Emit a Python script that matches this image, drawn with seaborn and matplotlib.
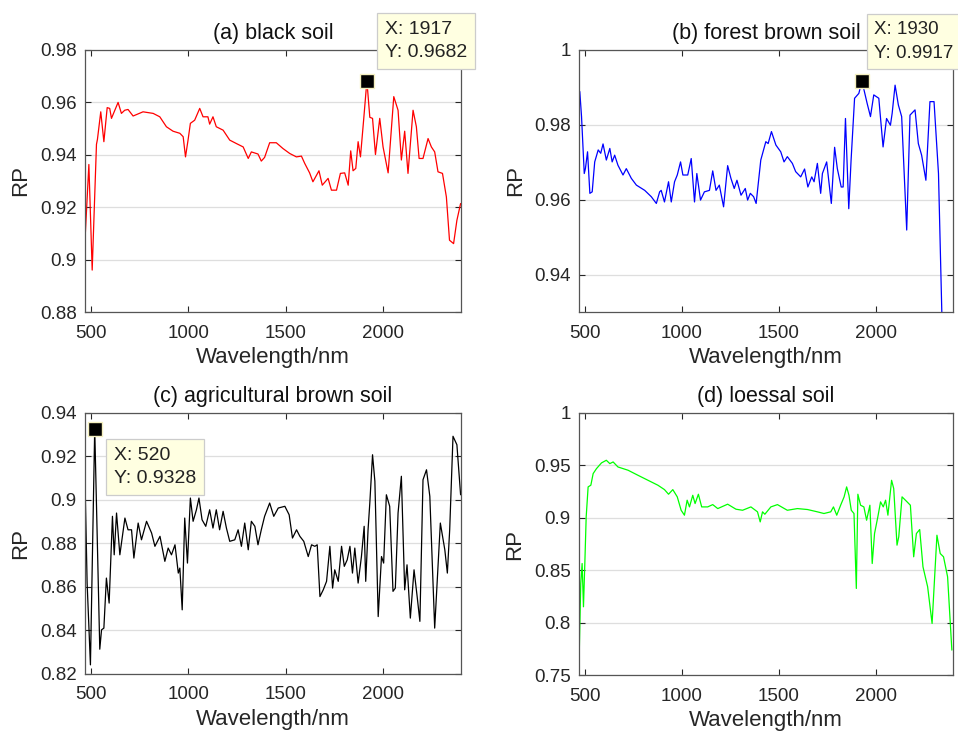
import numpy as np
import pandas as pd
import matplotlib
matplotlib.use('Agg')
import matplotlib.pyplot as plt
import seaborn as sns
from matplotlib.ticker import FuncFormatter

# (a) black soil
wl_a = [471, 490, 507, 529, 534, 551, 567, 584, 597, 606, 640, 657, 674, 691, 717, 768, 820, 854,
        888, 922, 957, 974, 986, 999, 1011, 1033, 1059, 1076, 1101, 1110, 1127, 1144, 1179, 1213,
        1247, 1282, 1308, 1324, 1358, 1375, 1392, 1418, 1452, 1486, 1521, 1555, 1581, 1598, 1623,
        1640, 1671, 1688, 1718, 1735, 1761, 1781, 1803, 1821, 1834, 1846, 1860, 1872, 1884, 1901,
        1917, 1932, 1946, 1961, 1983, 2000, 2026, 2055, 2077, 2094, 2111, 2128, 2154, 2171, 2185,
        2205, 2231, 2248, 2265, 2282, 2305, 2325, 2341, 2362, 2379, 2398]
rp_a = [0.9087, 0.9363, 0.8960, 0.9440, 0.9459, 0.9564, 0.9450, 0.9580, 0.9577, 0.9539, 0.9600,
        0.9558, 0.9570, 0.9573, 0.9548, 0.9564, 0.9558, 0.9545, 0.9507, 0.9490, 0.9482, 0.9469,
        0.9392, 0.9456, 0.9520, 0.9532, 0.9577, 0.9545, 0.9545, 0.9517, 0.9545, 0.9507, 0.9494,
        0.9456, 0.9443, 0.9430, 0.9386, 0.9411, 0.9403, 0.9376, 0.9390, 0.9446, 0.9446, 0.9424,
        0.9405, 0.9392, 0.9395, 0.9367, 0.9331, 0.9297, 0.9339, 0.9284, 0.9310, 0.9265, 0.9265,
        0.9329, 0.9331, 0.9284, 0.9415, 0.9339, 0.9348, 0.9450, 0.9392, 0.9539, 0.9682, 0.9543,
        0.9539, 0.9401, 0.9539, 0.9430, 0.9331, 0.9622, 0.9570, 0.9380, 0.9490, 0.9329, 0.9570,
        0.9507, 0.9386, 0.9386, 0.9462, 0.9430, 0.9411, 0.9335, 0.9329, 0.9239, 0.9074, 0.9061,
        0.9150, 0.9214]

# (b) forest brown soil
wl_b = [474, 483, 497, 503, 514, 526, 538, 551, 569, 582, 594, 611, 629, 641, 654, 671, 697, 714,
        740, 766, 809, 843, 869, 886, 894, 911, 932, 946, 963, 977, 994, 1006, 1031, 1049, 1066,
        1078, 1097, 1117, 1143, 1160, 1177, 1194, 1216, 1237, 1254, 1271, 1285, 1306, 1328, 1340,
        1354, 1371, 1384, 1408, 1434, 1446, 1463, 1486, 1511, 1528, 1545, 1571, 1588, 1614, 1634,
        1651, 1671, 1683, 1700, 1717, 1726, 1748, 1772, 1789, 1803, 1823, 1833, 1845, 1862, 1874,
        1892, 1914, 1930, 1957, 1974, 1991, 2017, 2039, 2057, 2077, 2086, 2101, 2118, 2135, 2161,
        2178, 2204, 2221, 2238, 2260, 2281, 2302, 2325, 2342, 2360]
rp_b = [0.9889, 0.9822, 0.9670, 0.9683, 0.9728, 0.9617, 0.9621, 0.9701, 0.9733, 0.9724, 0.9749,
        0.9706, 0.9737, 0.9701, 0.9719, 0.9692, 0.9666, 0.9683, 0.9657, 0.9639, 0.9625, 0.9608,
        0.9590, 0.9621, 0.9625, 0.9594, 0.9648, 0.9594, 0.9648, 0.9666, 0.9701, 0.9666, 0.9666,
        0.9710, 0.9594, 0.9670, 0.9599, 0.9621, 0.9625, 0.9677, 0.9625, 0.9639, 0.9581, 0.9691,
        0.9657, 0.9630, 0.9652, 0.9612, 0.9630, 0.9599, 0.9617, 0.9608, 0.9590, 0.9706, 0.9755,
        0.9750, 0.9782, 0.9746, 0.9728, 0.9701, 0.9715, 0.9697, 0.9675, 0.9661, 0.9682, 0.9634,
        0.9661, 0.9648, 0.9697, 0.9617, 0.9670, 0.9701, 0.9590, 0.9740, 0.9683, 0.9634, 0.9634,
        0.9817, 0.9576, 0.9706, 0.9871, 0.9884, 0.9917, 0.9857, 0.9822, 0.9880, 0.9871, 0.9741,
        0.9817, 0.9799, 0.9831, 0.9906, 0.9853, 0.9822, 0.9519, 0.9826, 0.9840, 0.9750, 0.9719,
        0.9652, 0.9862, 0.9862, 0.9670, 0.9304, 0.9000]

# (c) agricultural brown soil
wl_c = [471, 481, 498, 520, 532, 546, 555, 567, 580, 594, 611, 620, 632, 649, 675, 691, 709, 721,
        743, 760, 786, 812, 829, 855, 880, 897, 914, 932, 949, 957, 969, 982, 996, 1011, 1025,
        1042, 1055, 1071, 1090, 1110, 1127, 1144, 1161, 1179, 1196, 1213, 1239, 1256, 1273, 1290,
        1308, 1324, 1342, 1358, 1375, 1392, 1418, 1439, 1462, 1496, 1518, 1535, 1556, 1573, 1593,
        1616, 1633, 1650, 1662, 1676, 1693, 1710, 1727, 1741, 1752, 1770, 1787, 1801, 1816, 1830,
        1843, 1855, 1872, 1889, 1903, 1911, 1923, 1932, 1946, 1958, 1975, 1992, 2003, 2017, 2034,
        2051, 2063, 2077, 2094, 2111, 2123, 2140, 2159, 2175, 2189, 2205, 2223, 2240, 2265, 2294,
        2317, 2330, 2342, 2359, 2379, 2398]
rp_c = [0.9055, 0.8618, 0.8242, 0.9328, 0.8863, 0.8314, 0.8403, 0.8411, 0.8641, 0.8526, 0.8925,
        0.8748, 0.8940, 0.8748, 0.8917, 0.8863, 0.8863, 0.8733, 0.8894, 0.8817, 0.8902, 0.8848,
        0.8787, 0.8833, 0.8718, 0.8779, 0.8748, 0.8794, 0.8664, 0.8687, 0.8495, 0.8917, 0.8710,
        0.9009, 0.8902, 0.8955, 0.9009, 0.8909, 0.8879, 0.8955, 0.8871, 0.8955, 0.8863, 0.8948,
        0.8871, 0.8810, 0.8817, 0.8863, 0.8787, 0.8894, 0.8771, 0.8902, 0.8879, 0.8794, 0.8863,
        0.8925, 0.8986, 0.8925, 0.8963, 0.8971, 0.8932, 0.8825, 0.8863, 0.8833, 0.8810, 0.8740,
        0.8794, 0.8787, 0.8794, 0.8556, 0.8587, 0.8626, 0.8787, 0.8595, 0.8679, 0.8626, 0.8787,
        0.8695, 0.8725, 0.8787, 0.8664, 0.8779, 0.8618, 0.8740, 0.8879, 0.8626, 0.8863, 0.8986,
        0.9208, 0.9086, 0.8464, 0.8740, 0.8710, 0.9024, 0.8971, 0.8580, 0.8595, 0.8940, 0.9109,
        0.8587, 0.8702, 0.8457, 0.8679, 0.8556, 0.8442, 0.9093, 0.9139, 0.9017, 0.8411, 0.8894,
        0.8771, 0.8664, 0.8863, 0.9293, 0.9254, 0.9024]

# (d) loessal soil
wl_d = [471, 479, 486, 493, 500, 507, 517, 531, 543, 560, 586, 611, 629, 646, 671, 723, 774, 826,
        877, 911, 932, 954, 977, 997, 1014, 1028, 1040, 1057, 1069, 1086, 1103, 1134, 1160, 1186,
        1237, 1280, 1314, 1357, 1391, 1405, 1417, 1429, 1460, 1494, 1545, 1597, 1649, 1700, 1734,
        1769, 1783, 1800, 1820, 1838, 1851, 1863, 1875, 1889, 1901, 1909, 1923, 1940, 1954, 1971,
        1983, 1995, 2012, 2026, 2040, 2052, 2064, 2083, 2094, 2111, 2120, 2137, 2163, 2180, 2197,
        2211, 2228, 2245, 2269, 2292, 2317, 2334, 2351, 2372, 2394]
rp_d = [0.7690, 0.8374, 0.8564, 0.8151, 0.8564, 0.9009, 0.9295, 0.9311, 0.9422, 0.9469, 0.9524,
        0.9549, 0.9517, 0.9533, 0.9485, 0.9454, 0.9406, 0.9358, 0.9311, 0.9269, 0.9225, 0.9269,
        0.9200, 0.9072, 0.9025, 0.9168, 0.9104, 0.9215, 0.9136, 0.9225, 0.9104, 0.9104, 0.9126,
        0.9088, 0.9130, 0.9082, 0.9072, 0.9104, 0.9057, 0.8961, 0.9057, 0.9034, 0.9104, 0.9126,
        0.9072, 0.9088, 0.9079, 0.9057, 0.9041, 0.9057, 0.9104, 0.9025, 0.9120, 0.9200, 0.9295,
        0.9215, 0.9072, 0.9041, 0.8326, 0.9225, 0.9120, 0.9104, 0.8977, 0.9120, 0.8564, 0.8850,
        0.9009, 0.9152, 0.9104, 0.9168, 0.9025, 0.9358, 0.9279, 0.8739, 0.8819, 0.9200, 0.9152,
        0.9120, 0.8628, 0.8850, 0.8888, 0.8532, 0.8342, 0.7992, 0.8834, 0.8659, 0.8628, 0.8437,
        0.7738]

titles = ['(a) black soil', '(b) forest brown soil', '(c) agricultural brown soil', '(d) loessal soil']
colors = ['#ff0000', '#0000ff', '#000000', '#00ff00']
ylims = [(0.88, 0.98), (0.93, 1.0), (0.82, 0.94), (0.75, 1.0)]
yticks = [[0.88, 0.90, 0.92, 0.94, 0.96, 0.98],
          [0.94, 0.96, 0.98, 1.0],
          [0.82, 0.84, 0.86, 0.88, 0.90, 0.92, 0.94],
          [0.75, 0.80, 0.85, 0.90, 0.95, 1.0]]
xticks = [500, 1000, 1500, 2000]

# data tips: (x, y, text offset in points, va, font size)
tips = [(1917, 0.9682, (13, 14), 'bottom', 14),
        (1930, 0.9917, (9, 14), 'bottom', 13.5),
        (520, 0.9328, (14, -13), 'top', 14),
        None]

sns.set_theme(style='ticks')
plt.rcParams['font.family'] = ['Liberation Sans', 'DejaVu Sans']

fig = plt.figure(figsize=(9.58, 7.35), dpi=100)
positions = [[0.0887, 0.5755, 0.3925, 0.3565],
             [0.6044, 0.5755, 0.3904, 0.3565],
             [0.0887, 0.0830, 0.3925, 0.3551],
             [0.6044, 0.0816, 0.3904, 0.3565]]

series = [(wl_a, rp_a), (wl_b, rp_b), (wl_c, rp_c), (wl_d, rp_d)]
txt_col = '#262626'

for i, (wl, rp) in enumerate(series):
    ax = fig.add_axes(positions[i])
    df = pd.DataFrame({'Wavelength': wl, 'RP': rp})
    sns.lineplot(data=df, x='Wavelength', y='RP', ax=ax, color=colors[i], linewidth=0.9)
    ax.set_xlim(470, 2400)
    ax.set_ylim(*ylims[i])
    ax.set_xticks(xticks)
    ax.set_yticks(yticks[i])
    ax.yaxis.set_major_formatter(FuncFormatter(lambda v, p: '{:g}'.format(round(v, 4))))
    ax.tick_params(direction='in', length=4, width=0.8, top=True, right=True,
                   labelsize=13.5, colors=txt_col)
    ax.tick_params(axis='x', pad=9)
    ax.tick_params(axis='y', pad=6)
    ax.yaxis.grid(True, color='#dedede', linewidth=0.9)
    ax.xaxis.grid(False)
    for sp in ax.spines.values():
        sp.set_color('#555555')
        sp.set_linewidth(0.9)
        sp.set_visible(True)
    ax.set_xlabel('Wavelength/nm', fontsize=16, color=txt_col, labelpad=4)
    ax.set_ylabel('RP', fontsize=16, color=txt_col, labelpad=6)
    ax.set_title(titles[i], fontsize=15.5, color='#111111', pad=8)

    tip = tips[i]
    if tip is not None:
        tx, ty, off, va, fs = tip
        ax.plot([tx], [ty], marker='s', markersize=10, color='black',
                markeredgecolor='#f5f0c0', markeredgewidth=1, clip_on=False, zorder=5)
        ax.annotate('X: {}\nY: {}'.format(tx, ty), xy=(tx, ty), xytext=off,
                    textcoords='offset points', ha='left', va=va, fontsize=fs,
                    color='#222222', linespacing=1.5, annotation_clip=False, zorder=6,
                    bbox=dict(boxstyle='square,pad=0.4', fc='#ffffe1', ec='#cccccc', lw=0.9))

fig.savefig('out.png', dpi=100)
